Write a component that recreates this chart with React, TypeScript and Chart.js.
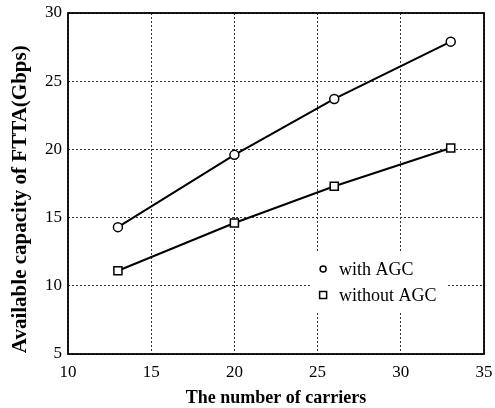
import React, { useEffect, useRef } from "react";
import { Chart, registerables } from "chart.js";

Chart.register(...registerables);

const carriers = [13, 20, 26, 33];
const withAGC = [14.3, 19.6, 23.7, 27.9];
const withoutAGC = [11.1, 14.6, 17.3, 20.1];
const seriesLabels = ["with AGC", "without AGC"];
const xTitle = "The number of carriers";
const yTitle = "Available capacity of FTTA(Gbps)";

const SERIF = "'Liberation Serif', 'Times New Roman', serif";

const framePlugin = {
  id: "frame",
  afterDatasetsDraw(chart: any) {
    const { ctx, chartArea: a } = chart;
    ctx.save();
    ctx.strokeStyle = "#000";
    ctx.lineWidth = 1.8;
    ctx.strokeRect(a.left, a.top, a.right - a.left, a.bottom - a.top);
    ctx.restore();
  },
};

const legendPlugin = {
  id: "innerLegend",
  afterDatasetsDraw(chart: any) {
    const { ctx, chartArea: a } = chart;
    const w = a.right - a.left;
    const h = a.bottom - a.top;
    const bx = a.left + 0.582 * w;
    const by = a.top + 0.704 * h;
    ctx.save();
    ctx.fillStyle = "#fff";
    ctx.fillRect(bx, by, 138, 60);
    ctx.font = `18px ${SERIF}`;
    ctx.textBaseline = "middle";
    ctx.textAlign = "left";
    const ds = chart.data.datasets;
    ds.forEach((d: any, i: number) => {
      const cy = by + 16 + i * 26;
      const cx = bx + 13;
      ctx.strokeStyle = "#000";
      ctx.lineWidth = 1.5;
      ctx.fillStyle = "#fff";
      ctx.beginPath();
      if (d.pointStyle === "rect") {
        ctx.rect(cx - 3.5, cy - 3.5, 7, 7);
      } else {
        ctx.arc(cx, cy, 3, 0, Math.PI * 2);
      }
      ctx.fill();
      ctx.stroke();
      ctx.fillStyle = "#000";
      ctx.fillText(d.label, bx + 29, cy + 1);
    });
    ctx.restore();
  },
};

export default function App() {
  const ref = useRef<HTMLCanvasElement | null>(null);
  useEffect(() => {
    if (!ref.current) return;
    const grid = {
      color: "#333",
      lineWidth: 1,
      drawTicks: false,
    };
    const border = { display: false, dash: [2, 2] };
    const chart = new Chart(ref.current, {
      type: "line",
      data: {
        datasets: [
          {
            label: seriesLabels[0],
            data: carriers.map((x, i) => ({ x, y: withAGC[i] })),
            borderColor: "#000",
            borderWidth: 2,
            backgroundColor: "#fff",
            pointStyle: "circle",
            pointRadius: 4.5,
            pointBorderWidth: 1.5,
            pointBorderColor: "#000",
            pointBackgroundColor: "#fff",
            tension: 0,
          },
          {
            label: seriesLabels[1],
            data: carriers.map((x, i) => ({ x, y: withoutAGC[i] })),
            borderColor: "#000",
            borderWidth: 2,
            backgroundColor: "#fff",
            pointStyle: "rect",
            pointRadius: 5.7,
            pointBorderWidth: 1.5,
            pointBorderColor: "#000",
            pointBackgroundColor: "#fff",
            tension: 0,
          },
        ],
      },
      options: {
        responsive: false,
        animation: false,
        layout: { padding: { left: 0, right: 11, top: 13, bottom: 0 } },
        plugins: {
          legend: { display: false },
          tooltip: { enabled: false },
        },
        scales: {
          x: {
            type: "linear",
            min: 10,
            max: 35,
            afterFit: (s: any) => {
              s.height = 54;
              s.paddingLeft = 0;
              s.paddingRight = 0;
            },
            ticks: {
              stepSize: 5,
              color: "#000",
              padding: 8,
              font: { family: SERIF, size: 17 },
            },
            grid,
            border,
            title: {
              display: true,
              text: xTitle,
              color: "#000",
              font: { family: SERIF, size: 18, weight: "bold", lineHeight: 1 },
              padding: { top: 0, bottom: 1 },
            },
          },
          y: {
            type: "linear",
            min: 5,
            max: 30,
            afterFit: (s: any) => {
              s.width = 68;
              s.paddingTop = 0;
              s.paddingBottom = 0;
            },
            ticks: {
              stepSize: 5,
              color: "#000",
              padding: 6,
              font: { family: SERIF, size: 17 },
            },
            grid,
            border,
            title: {
              display: true,
              text: yTitle + "      ",
              color: "#000",
              font: { family: SERIF, size: 21, weight: "bold", lineHeight: 1 },
              padding: { top: 10, bottom: 0 },
            },
          },
        },
      },
      plugins: [framePlugin, legendPlugin],
    } as any);
    return () => chart.destroy();
  }, []);
  return (
    <div style={{ position: "absolute", left: 0, top: 0, width: 495, height: 408, background: "#fff" }}>
      <canvas ref={ref} width={495} height={408} />
    </div>
  );
}
